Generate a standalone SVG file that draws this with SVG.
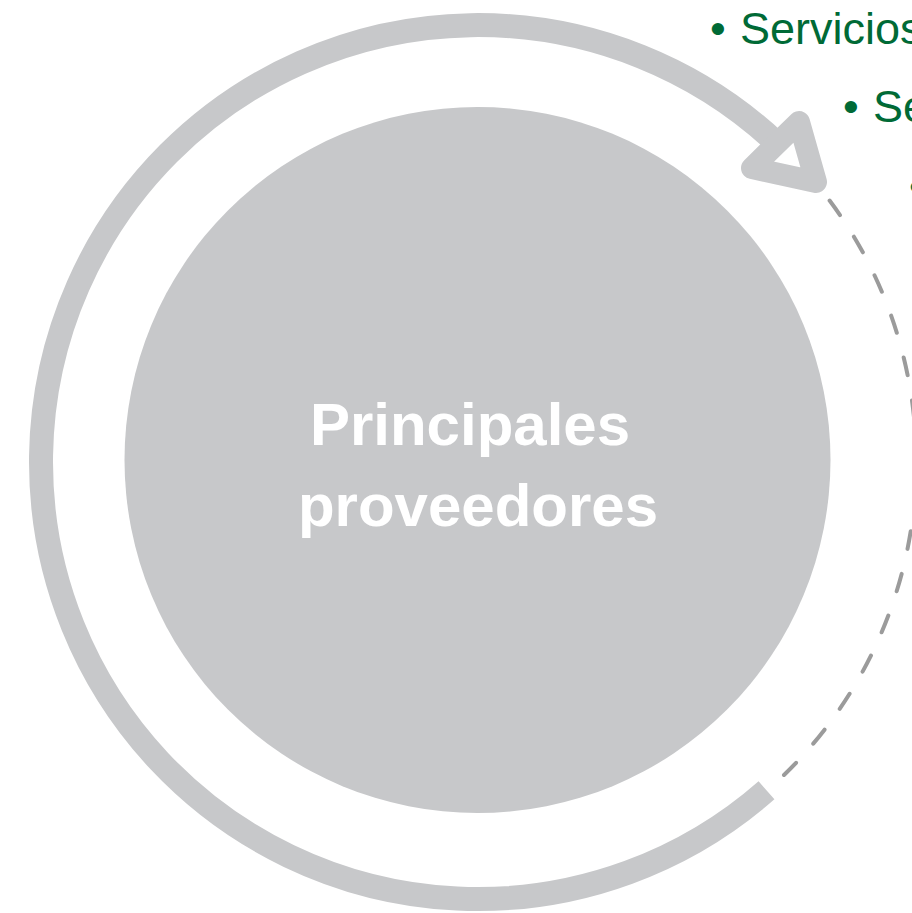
<svg xmlns="http://www.w3.org/2000/svg" width="912" height="913" viewBox="0 0 912 913">
<style>
.ring{fill:none;stroke:#C7C8CA;stroke-width:24;}
.head{fill:none;stroke:#C7C8CA;stroke-width:22;stroke-linejoin:round;}
.dash{fill:none;stroke:#9B9B9B;stroke-width:4;stroke-linecap:round;stroke-dasharray:18 25.7;}
.lbl{font-family:"Liberation Sans",Arial,sans-serif;font-weight:bold;font-size:60px;fill:#FFFFFF;text-anchor:middle;}
.bul{font-family:"Liberation Sans",Arial,sans-serif;font-size:45px;fill:#006A36;}
</style>
<rect width="912" height="913" fill="#FFFFFF"/>
<g id="connectors">
<path class="ring" d="M766.5,790.3 A437,437 0 1 1 776.5,142.9"/>
<polygon class="head" points="799,122 752,168 816,182"/>
<path class="dash" d="M829.6,200.5 A437,437 0 0 1 784,775"/>
</g>
<g id="node-center">
<circle cx="477.5" cy="460" r="353" fill="#C7C8CA"/>
<text class="lbl" x="470" y="445">Principales</text>
<text class="lbl" x="478" y="526">proveedores</text>
</g>
<g id="node-list">
<text class="bul" y="44"><tspan x="710">•</tspan><tspan x="740">Servicios</tspan></text>
<text class="bul" y="122"><tspan x="843">•</tspan><tspan x="873">Se</tspan></text>
<text class="bul" y="202"><tspan x="909">•</tspan></text>
</g>
</svg>
